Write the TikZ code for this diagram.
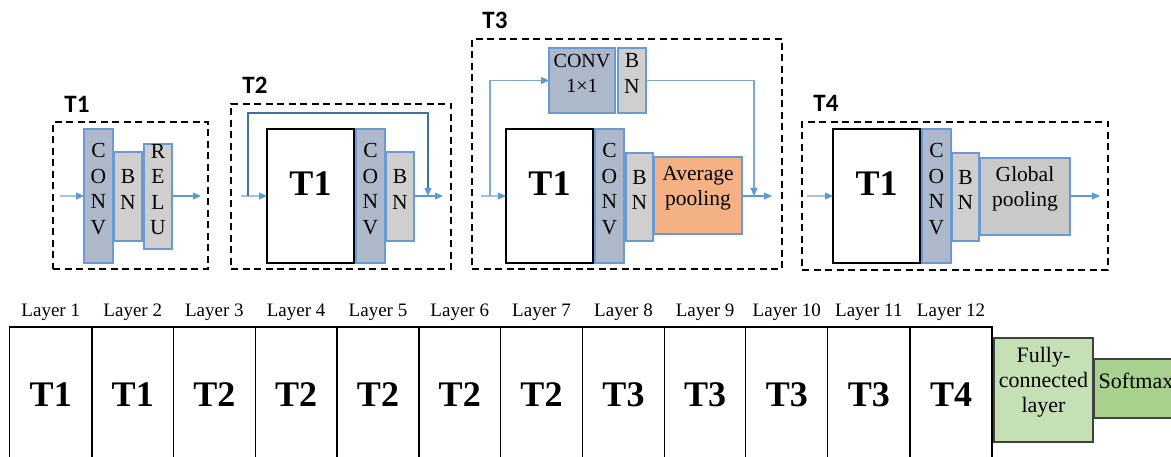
\documentclass[tikz,border=0pt]{standalone}
\usepackage{fontspec}
\setmainfont{Liberation Serif}
\newfontfamily\headfont{Carlito}
\usetikzlibrary{arrows.meta,fit}

\definecolor{convfill}{HTML}{ADB9CA}
\definecolor{bnfill}{HTML}{D0CECE}
\definecolor{edgeblue}{HTML}{6A9AD3}
\definecolor{arrowblue}{HTML}{5B9BD5}
\definecolor{stemblue}{HTML}{A4C4E6}
\definecolor{skipdark}{HTML}{41719C}
\definecolor{skiplight}{HTML}{7FA8D8}
\definecolor{avgfill}{HTML}{F4B183}
\definecolor{gpfill}{HTML}{C9C9C9}
\definecolor{fcfill}{HTML}{C5E0B4}
\definecolor{smfill}{HTML}{A9D18E}

\begin{document}
\begin{tikzpicture}[x=1pt,y=-1pt,
  every node/.style={inner sep=0pt, outer sep=0pt},
  dashframe/.style={draw=black, line width=1.8pt, dash pattern=on 7pt off 4.5pt},
  paneltitle/.style={font=\headfont\bfseries\fontsize{25}{28}\selectfont},
  block/.style={draw=edgeblue, line width=1.3pt, align=center,
                font=\fontsize{21.5}{25.5}\selectfont},
  convbox/.style={block, fill=convfill},
  bnbox/.style={block, fill=bnfill},
  avgbox/.style={block, fill=avgfill},
  gpbox/.style={block, fill=gpfill},
  subblock/.style={draw=black, line width=1.3pt, fill=white,
                   font=\bfseries\fontsize{36}{40}\selectfont},
  tip/.style={-{Triangle[length=8pt,width=7pt,color=arrowblue]}},
  flow/.style={draw=arrowblue, line width=1.1pt, tip},
  inflow/.style={draw=stemblue, line width=1.1pt, tip},
  skipA/.style={draw=skipdark, line width=1.1pt, tip},
  skipB/.style={draw=skiplight, line width=1.1pt, tip},
  cell/.style={draw=black, line width=1.2pt},
  bigT/.style={font=\bfseries\fontsize{36}{40}\selectfont},
  layerlab/.style={font=\fontsize{19}{22}\selectfont, anchor=base},
  headbox/.style={draw=black!75, line width=1.2pt, align=center,
                  font=\fontsize{22}{25}\selectfont}
]
\useasboundingbox (0,0) rectangle (1171,457);

% ---------- block T1: CONV -> BN -> RELU ----------
\node[dashframe, fit={(53,122) (208,269)}] (f1) {};
\node[paneltitle] (h1) at (77,104) {T1};
\node[convbox, fit={(84,129) (113,263)}] (a1) {C\\O\\N\\V};
\node[bnbox, fit={(114,152) (142,241)}] (b1) {B\\N};
\node[bnbox, fit={(144,144) (172,249)}] (r1) {R\\E\\L\\U};
\coordinate (in1) at (60,196);
\coordinate (out1) at (201,196);
\draw[inflow] (in1) -- (a1.west |- in1);
\draw[flow] (r1.east |- out1) -- (out1);

% ---------- block T2: T1 -> CONV -> BN with identity skip ----------
\node[dashframe, fit={(231,104) (451,269)}] (f2) {};
\node[paneltitle] (h2) at (255,85) {T2};
\node[subblock, fit={(267,129) (354,263)}] (t2) {T1};
\node[convbox, fit={(356,129) (385,263)}] (a2) {C\\O\\N\\V};
\node[bnbox, fit={(386,152) (414,241)}] (b2) {B\\N};
\coordinate (in2) at (241,196);
\coordinate (out2) at (443,196);
\coordinate (s2a) at (248,196);
\coordinate (s2b) at (428,113);
\coordinate (s2c) at (428,196);
\draw[inflow] (in2) -- (t2.west |- in2);
\draw[skipA] (s2a) |- (s2b) -- (s2c);
\draw[flow] (b2.east |- out2) -- (out2);

% ---------- block T3: T1 -> CONV -> BN -> avg pooling, 1x1 projection ----------
\node[dashframe, fit={(472,39) (782,269)}] (f3) {};
\node[paneltitle] (h3) at (495,20) {T3};
\node[convbox, font=\fontsize{20}{25}\selectfont, fit={(549,48) (615,113)}] (p3) {CONV\\1×1};
\node[bnbox, fit={(618,48) (646,113)}] (q3) {B\\N};
\node[subblock, fit={(506,129) (593,263)}] (t3) {T1};
\node[convbox, fit={(595,129) (624,263)}] (a3) {C\\O\\N\\V};
\node[bnbox, fit={(626,153) (653,241)}] (b3) {B\\N};
\node[avgbox, fit={(654,157) (742,234)}] (g3) {Average\\pooling};
\coordinate (in3) at (481,196);
\coordinate (out3) at (772,196);
\coordinate (s3a) at (490,196);
\coordinate (s3b) at (754,196);
\draw[inflow] (in3) -- (t3.west |- in3);
\draw[skipB] (s3a) |- (p3.west);
\draw[skipB] (q3.east) -| (s3b);
\draw[flow] (g3.east |- out3) -- (out3);

% ---------- block T4: T1 -> CONV -> BN -> global pooling ----------
\node[dashframe, fit={(802,122) (1108,270)}] (f4) {};
\node[paneltitle] (h4) at (826,103) {T4};
\node[subblock, fit={(833,129) (920,263)}] (t4) {T1};
\node[convbox, fit={(922,129) (951,263)}] (a4) {C\\O\\N\\V};
\node[bnbox, fit={(952,153) (979,241)}] (b4) {B\\N};
\node[gpbox, fit={(980,158) (1070,235)}] (g4) {Global\\pooling};
\coordinate (in4) at (807,196);
\coordinate (out4) at (1100,196);
\draw[inflow] (in4) -- (t4.west |- in4);
\draw[flow] (g4.east |- out4) -- (out4);

% ---------- network: twelve layers, then the classifier head ----------
\foreach \i/\xa/\xb/\t in {1/9.5/92/T1, 2/92/173.5/T1, 3/173.5/255.3/T2,
    4/255.3/337/T2, 5/337/419/T2, 6/419/500.5/T2, 7/500.5/582.5/T2,
    8/582.5/664.5/T3, 9/664.5/745.8/T3, 10/745.8/827.7/T3,
    11/827.7/910/T3, 12/910/992/T4} {
  \node[cell, fit={(\xa,327) (\xb,480)}] (L\i) {};
  \node[bigT] (T\i) at ([yshift=-68pt]L\i.north) {\t};
  \node[layerlab] (lab\i) at ([yshift=10pt]L\i.north) {Layer \i};
}
\node[headbox, fill=fcfill, fit={(994,338) (1093,442)}] (fc) {Fully-\\connected\\layer};
\node[headbox, fill=smfill, fit={(1094,359) (1178,418)}] (sm) {Softmax};
\end{tikzpicture}
\end{document}
